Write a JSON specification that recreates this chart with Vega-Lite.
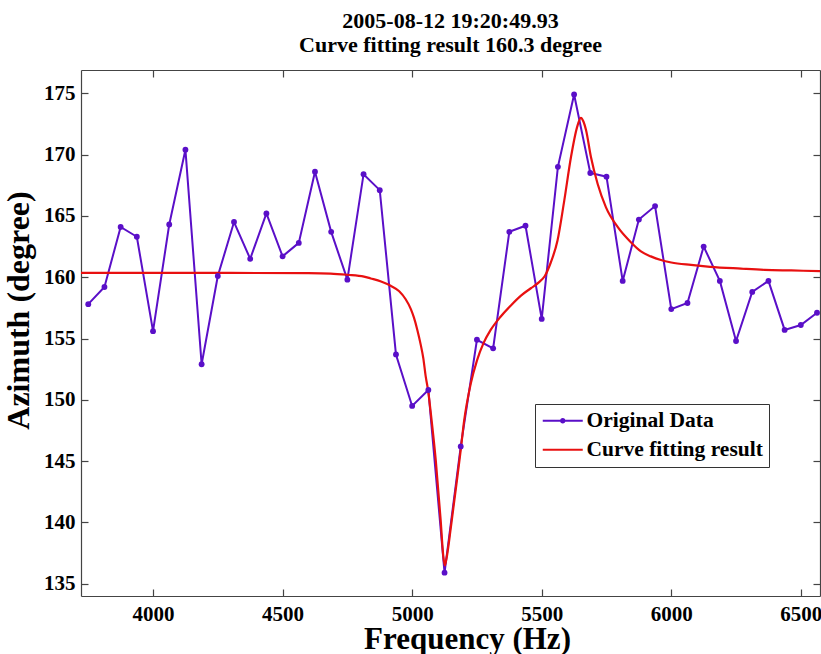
{
  "$schema": "https://vega.github.io/schema/vega-lite/v6.json",
  "autosize": "none",
  "width": 739,
  "height": 526,
  "padding": {"left": 81, "top": 70, "right": 1, "bottom": 58},
  "background": "white",
  "title": {
    "text": ["2005-08-12 19:20:49.93", "Curve fitting result 160.3 degree"],
    "font": "Liberation Serif",
    "fontWeight": "bold",
    "fontSize": 22,
    "lineHeight": 24,
    "color": "black",
    "anchor": "middle",
    "offset": 12
  },
  "config": {
    "view": {"stroke": null},
    "axis": {
      "labelFont": "Liberation Serif",
      "labelFontWeight": "bold",
      "labelFontSize": 21,
      "labelColor": "black",
      "titleFont": "Liberation Serif",
      "titleFontWeight": "bold",
      "titleFontSize": 32,
      "titleColor": "black",
      "domainColor": "#444",
      "domainWidth": 1.2,
      "tickColor": "#444",
      "tickWidth": 1.2,
      "tickSize": -7,
      "grid": false
    },
    "legend": {
      "labelFont": "Liberation Serif",
      "labelFontWeight": "bold",
      "labelFontSize": 21.5,
      "labelColor": "black",
      "labelLimit": 0
    }
  },
  "datasets": {
    "orig": [
      {"f": 3750, "v": 157.8}, {"f": 3812.5, "v": 159.2}, {"f": 3875, "v": 164.1}, {"f": 3937.5, "v": 163.3},
      {"f": 4000, "v": 155.6}, {"f": 4062.5, "v": 164.3}, {"f": 4125, "v": 170.4}, {"f": 4187.5, "v": 152.9},
      {"f": 4250, "v": 160.1}, {"f": 4312.5, "v": 164.5}, {"f": 4375, "v": 161.5}, {"f": 4437.5, "v": 165.2},
      {"f": 4500, "v": 161.7}, {"f": 4562.5, "v": 162.8}, {"f": 4625, "v": 168.6}, {"f": 4687.5, "v": 163.7},
      {"f": 4750, "v": 159.8}, {"f": 4812.5, "v": 168.4}, {"f": 4875, "v": 167.1}, {"f": 4937.5, "v": 153.7},
      {"f": 5000, "v": 149.5}, {"f": 5062.5, "v": 150.8}, {"f": 5125, "v": 135.9}, {"f": 5187.5, "v": 146.2},
      {"f": 5250, "v": 154.9}, {"f": 5312.5, "v": 154.2}, {"f": 5375, "v": 163.7}, {"f": 5437.5, "v": 164.2},
      {"f": 5500, "v": 156.6}, {"f": 5562.5, "v": 169.0}, {"f": 5625, "v": 174.9}, {"f": 5687.5, "v": 168.5},
      {"f": 5750, "v": 168.2}, {"f": 5812.5, "v": 159.7}, {"f": 5875, "v": 164.7}, {"f": 5937.5, "v": 165.8},
      {"f": 6000, "v": 157.4}, {"f": 6062.5, "v": 157.9}, {"f": 6125, "v": 162.5}, {"f": 6187.5, "v": 159.7},
      {"f": 6250, "v": 154.8}, {"f": 6312.5, "v": 158.8}, {"f": 6375, "v": 159.7}, {"f": 6437.5, "v": 155.7},
      {"f": 6500, "v": 156.1}, {"f": 6562.5, "v": 157.1}
    ],
    "fit": [
      {"f": 3722, "v": 160.35}, {"f": 4000, "v": 160.35}, {"f": 4300, "v": 160.35}, {"f": 4600, "v": 160.33},
      {"f": 4685, "v": 160.3}, {"f": 4750, "v": 160.2}, {"f": 4814, "v": 160.05}, {"f": 4840, "v": 159.9},
      {"f": 4880, "v": 159.65}, {"f": 4917, "v": 159.3}, {"f": 4950, "v": 158.85}, {"f": 4975, "v": 158.2},
      {"f": 4995, "v": 157.4}, {"f": 5007, "v": 156.7}, {"f": 5020, "v": 155.7}, {"f": 5033, "v": 154.5},
      {"f": 5043, "v": 153.4}, {"f": 5052, "v": 151.95}, {"f": 5062, "v": 150.7}, {"f": 5071, "v": 149.1},
      {"f": 5091, "v": 145.1}, {"f": 5110, "v": 140.2}, {"f": 5120, "v": 137.3}, {"f": 5126, "v": 136.5},
      {"f": 5132, "v": 137.0}, {"f": 5150, "v": 139.7}, {"f": 5175, "v": 143.8}, {"f": 5188, "v": 146.0},
      {"f": 5200, "v": 148.2}, {"f": 5226, "v": 151.3}, {"f": 5250, "v": 153.2}, {"f": 5275, "v": 154.6},
      {"f": 5303, "v": 155.7}, {"f": 5342, "v": 156.8}, {"f": 5381, "v": 157.7}, {"f": 5420, "v": 158.5},
      {"f": 5458, "v": 159.1}, {"f": 5490, "v": 159.6}, {"f": 5512, "v": 160.1}, {"f": 5535, "v": 161.2},
      {"f": 5561, "v": 163.0}, {"f": 5587, "v": 166.25}, {"f": 5613, "v": 169.8}, {"f": 5636, "v": 172.2},
      {"f": 5651, "v": 173.0}, {"f": 5661, "v": 172.7}, {"f": 5671, "v": 172.0}, {"f": 5690, "v": 169.8},
      {"f": 5716, "v": 167.6}, {"f": 5748, "v": 165.7}, {"f": 5793, "v": 164.1}, {"f": 5844, "v": 162.85},
      {"f": 5883, "v": 162.1}, {"f": 5921, "v": 161.7}, {"f": 5960, "v": 161.4}, {"f": 6000, "v": 161.2},
      {"f": 6076, "v": 161.0}, {"f": 6150, "v": 160.85}, {"f": 6269, "v": 160.7}, {"f": 6360, "v": 160.6},
      {"f": 6463, "v": 160.55}, {"f": 6574, "v": 160.5}
    ]
  },
  "layer": [
    {
      "data": {"name": "orig"},
      "transform": [{"calculate": "'Original Data'", "as": "series"}],
      "mark": {"type": "line", "strokeWidth": 2, "clip": true},
      "encoding": {
        "x": {
          "field": "f", "type": "quantitative",
          "scale": {"domain": [3722, 6574], "nice": false, "zero": false},
          "axis": {"orient": "bottom", "values": [4000, 4500, 5000, 5500, 6000, 6500], "format": "d",
                   "title": "Frequency (Hz)", "titleFontSize": 31, "labelPadding": 14, "titleX": 386, "titleY": 52, "titleBaseline": "alphabetic"}
        },
        "y": {
          "field": "v", "type": "quantitative",
          "scale": {"domain": [134, 176.9], "nice": false, "zero": false},
          "axis": {"orient": "left", "values": [135, 140, 145, 150, 155, 160, 165, 170, 175],
                   "title": "Azimuth (degree)", "labelPadding": 13, "titleX": -53, "titleY": 240,
                   "titleAngle": -90, "titleAlign": "center", "titleBaseline": "alphabetic"}
        },
        "color": {
          "field": "series", "type": "nominal",
          "scale": {"domain": ["Original Data", "Curve fitting result"], "range": ["#5a0fc8", "#e81010"]},
          "legend": {
            "title": null,
            "orient": "none",
            "legendX": 454,
            "legendY": 334,
            "strokeColor": "#333",
            "fillColor": "white",
            "padding": 6,
            "rowPadding": 6,
            "symbolSize": 100,
            "symbolStrokeWidth": 2,
            "symbolOffset": 11,
            "labelOffset": 13,
            "symbolType": "M-4,0H4",
            "encode": {
              "symbols": {
                "update": {
                  "shape": {"signal": "datum.value === 'Original Data' ? 'M-4,0H4M-0.35,0a0.35,0.35 0 1,0 0.7,0a0.35,0.35 0 1,0 -0.7,0' : 'M-4,0H4'"}
                }
              }
            }
          }
        }
      }
    },
    {
      "data": {"name": "fit"},
      "transform": [{"calculate": "'Curve fitting result'", "as": "series"}],
      "mark": {"type": "line", "strokeWidth": 2.2, "clip": true, "interpolate": "monotone"},
      "encoding": {
        "x": {"field": "f", "type": "quantitative", "axis": null},
        "y": {"field": "v", "type": "quantitative", "axis": null},
        "color": {"field": "series", "type": "nominal"}
      }
    },
    {
      "data": {"name": "orig"},
      "mark": {"type": "point", "filled": true, "size": 34, "opacity": 1, "color": "#5a0fc8", "clip": true},
      "encoding": {
        "x": {"field": "f", "type": "quantitative",
              "axis": {"orient": "top", "values": [4000, 4500, 5000, 5500, 6000, 6500], "labels": false, "title": null}},
        "y": {"field": "v", "type": "quantitative",
              "axis": {"orient": "right", "values": [135, 140, 145, 150, 155, 160, 165, 170, 175], "labels": false, "title": null}}
      }
    }
  ],
  "resolve": {"axis": {"x": "independent", "y": "independent"}}
}
